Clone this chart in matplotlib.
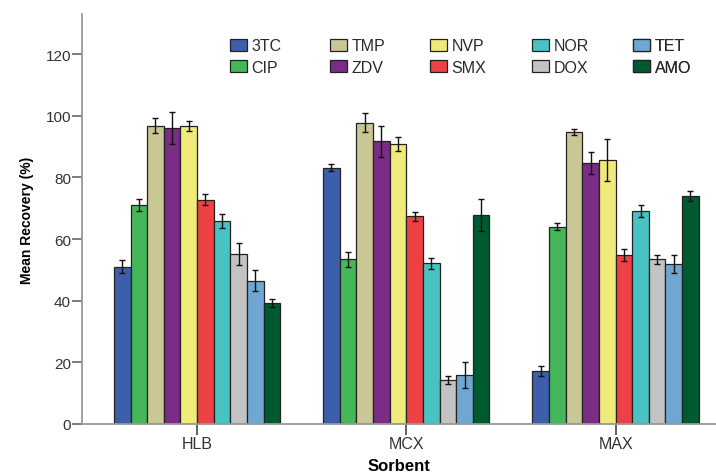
import numpy as np
import matplotlib
matplotlib.use("Agg")
import matplotlib.pyplot as plt

plt.rcParams['font.family'] = ['Liberation Sans', 'DejaVu Sans']

sorbents = ["HLB", "MCX", "MAX"]
compounds = ["3TC", "CIP", "TMP", "ZDV", "NVP", "SMX", "NOR", "DOX", "TET", "AMO"]
colors = ["#3D5FAB", "#45B75A", "#C9C795", "#7A2C87", "#EFEA7A",
          "#EE4144", "#48C2C2", "#C2C3C2", "#6FA7D2", "#005A2F"]

# mean recovery (%) per compound for HLB, MCX, MAX
means = {
    "3TC": [51.0, 83.1, 17.2],
    "CIP": [71.1, 53.4, 64.0],
    "TMP": [96.8, 97.8, 94.6],
    "ZDV": [95.9, 91.7, 84.6],
    "NVP": [96.6, 90.7, 85.6],
    "SMX": [72.8, 67.4, 54.9],
    "NOR": [65.9, 52.1, 69.1],
    "DOX": [55.1, 14.2, 53.4],
    "TET": [46.5, 15.9, 51.9],
    "AMO": [39.2, 67.8, 74.1],
}
# error bar half-widths
errors = {
    "3TC": [2.1, 1.1, 1.7],
    "CIP": [2.0, 2.5, 1.1],
    "TMP": [2.5, 3.1, 1.0],
    "ZDV": [5.2, 5.0, 3.5],
    "NVP": [1.6, 2.3, 6.7],
    "SMX": [1.7, 1.5, 1.9],
    "NOR": [2.2, 1.8, 2.1],
    "DOX": [3.5, 1.3, 1.5],
    "TET": [3.5, 4.2, 3.0],
    "AMO": [1.2, 5.2, 1.6],
}

W, H = 716, 477
fig = plt.figure(figsize=(W / 100, H / 100), dpi=100)
ax = fig.add_axes([82 / W, 52 / H, 1 - 82 / W, 410 / H])

x = np.arange(len(sorbents))
n = len(compounds)
group_w = 0.795
w = group_w / n
handles = []
for i, (c, col) in enumerate(zip(compounds, colors)):
    pos = x - group_w / 2 + w * (i + 0.5)
    bars = ax.bar(pos, means[c], width=w, color=col, edgecolor="#222222",
                  linewidth=0.9, label=c, zorder=2)
    handles.append(bars)
    ax.errorbar(pos, means[c], yerr=errors[c], fmt="none", ecolor="#111111",
                elinewidth=1.0, capsize=2, capthick=1.0, zorder=3)

ax.set_xlim(-0.55, 2.48)
ax.set_ylim(0, 133)
ax.set_xticks(x)
ax.set_xticklabels(sorbents)
ax.set_yticks(np.arange(0, 121, 20))

for s in ["top", "right"]:
    ax.spines[s].set_visible(False)
for s in ["left", "bottom"]:
    ax.spines[s].set_color("#999999")
    ax.spines[s].set_linewidth(1.3)

ax.tick_params(axis="y", direction="out", length=7, width=1.2, color="#666666",
               labelsize=11, labelcolor="#333333", pad=1)
ax.tick_params(axis="x", direction="out", length=8, width=1.2, color="#444444",
               labelsize=11.5, labelcolor="#333333", pad=0.5)

ax.set_ylabel("Mean Recovery (%)", fontsize=10, fontweight="bold", labelpad=8)
ax.set_xlabel("Sorbent", fontsize=12, fontweight="bold", labelpad=5)

# legend: five columns of two entries each, evenly spaced
col_px = [230, 330, 430, 532, 633]
for j, px in enumerate(col_px):
    leg = ax.legend(handles[2 * j:2 * j + 2], compounds[2 * j:2 * j + 2],
                    loc="upper left",
                    bbox_to_anchor=((px - 82) / (W - 82), 0.941),
                    frameon=False, fontsize=11.5, handlelength=1.05,
                    handleheight=0.8, handletextpad=0.3, labelspacing=0.4,
                    borderaxespad=0, borderpad=0, labelcolor="#2a2a2a")
    ax.add_artist(leg)

fig.savefig("out.png", dpi=100)
